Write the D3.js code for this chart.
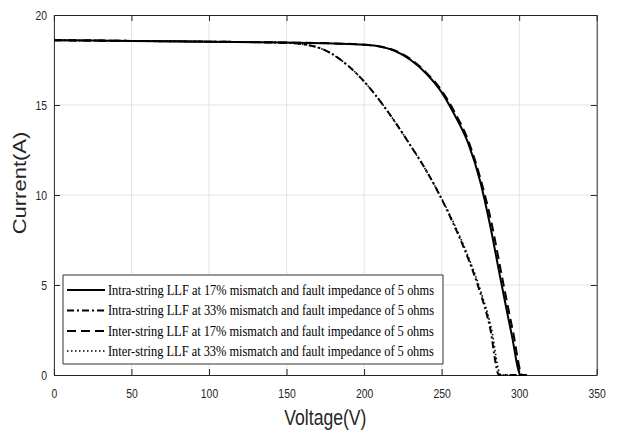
<!DOCTYPE html>
<html>
<head>
<meta charset="utf-8">
<script src="https://cdn.jsdelivr.net/npm/d3@7"></script>
<style>
  body { margin: 0; background: #fff; }
  svg { display: block; }
  .tick text { font-family: "Liberation Sans", Arial, sans-serif; font-size: 13px; fill: #262626; }
  .tick line { stroke: #262626; }
  .domain { stroke: #262626; }
</style>
</head>
<body>
<div id="chart"></div>
<script>
// I-V curves
var intra17V = [0, 50, 100, 150, 180, 200, 210, 220, 230, 240, 250, 258, 267, 275, 281, 288, 295, 301, 305];
var intra17I = [18.6, 18.56, 18.52, 18.47, 18.42, 18.35, 18.25, 18.0, 17.5, 16.75, 15.7, 14.5, 12.9, 10.7, 8.4, 5.3, 2.3, 0, 0];

var intra33V = [0, 50, 100, 150, 160, 170, 178, 190, 200, 213, 228, 245, 257, 266, 274, 281, 287, 305];
var intra33I = [18.6, 18.56, 18.52, 18.45, 18.38, 18.2, 17.9, 17.15, 16.3, 14.9, 13.0, 10.6, 8.5, 6.7, 4.8, 2.7, 0, 0];

var inter17V = [0, 50, 100, 150, 180, 200, 210, 220, 230, 240, 250, 258, 267, 275, 282, 289, 296, 302, 305];
var inter17I = [18.6, 18.56, 18.52, 18.47, 18.42, 18.35, 18.25, 18.02, 17.55, 16.8, 15.8, 14.65, 13.05, 10.9, 8.5, 5.4, 2.4, 0, 0];

var inter33V = [0, 50, 100, 150, 160, 170, 178, 190, 200, 213, 228, 245, 258, 267, 275, 282, 288, 305];
var inter33I = [18.6, 18.56, 18.52, 18.45, 18.38, 18.2, 17.9, 17.15, 16.3, 14.9, 13.0, 10.6, 8.4, 6.6, 4.7, 2.6, 0, 0];

var legendLabels = [
  "Intra-string LLF at 17% mismatch and fault impedance of 5 ohms",
  "Intra-string LLF at 33% mismatch and fault impedance of 5 ohms",
  "Inter-string LLF at 17% mismatch and fault impedance of 5 ohms",
  "Inter-string LLF at 33% mismatch and fault impedance of 5 ohms"
];
var xTicks = [0, 50, 100, 150, 200, 250, 300, 350];
var yTicks = [0, 5, 10, 15, 20];

// the picture is squeezed horizontally, so draw wide and squash with the viewBox
var sx = 0.8;
var W = 619, H = 433;
var VW = W / sx;
var margin = {top: 15, right: VW - 746, bottom: H - 375, left: 67.5};
var width = VW - margin.left - margin.right;
var height = H - margin.top - margin.bottom;

var x = d3.scaleLinear().domain([0, 350]).range([0, width]);
var y = d3.scaleLinear().domain([0, 20]).range([height, 0]);

var svg = d3.select("#chart").append("svg")
    .attr("width", W)
    .attr("height", H)
    .attr("viewBox", "0 0 " + VW + " " + H)
    .attr("preserveAspectRatio", "none");

var g = svg.append("g")
    .attr("transform", "translate(" + margin.left + "," + margin.top + ")");

// grid
g.append("g").selectAll("line.gx")
  .data(xTicks.slice(1, -1))
  .enter().append("line")
  .attr("x1", function(d) { return x(d); })
  .attr("x2", function(d) { return x(d); })
  .attr("y1", 0).attr("y2", height)
  .attr("stroke", "#e3e3e3")
  .attr("vector-effect", "non-scaling-stroke");
g.append("g").selectAll("line.gy")
  .data(yTicks.slice(1, -1))
  .enter().append("line")
  .attr("x1", 0).attr("x2", width)
  .attr("y1", function(d) { return y(d); })
  .attr("y2", function(d) { return y(d); })
  .attr("stroke", "#e3e3e3")
  .attr("vector-effect", "non-scaling-stroke");

// axes, ticks pointing in
var xt = 6, yt = 6 / sx;
g.append("g")
  .attr("transform", "translate(0," + height + ")")
  .call(d3.axisBottom(x).tickValues(xTicks).tickSizeInner(-xt).tickSizeOuter(0).tickPadding(14));
g.append("g")
  .call(d3.axisTop(x).tickValues(xTicks).tickSizeInner(-xt).tickSizeOuter(0).tickFormat(""));
g.append("g")
  .call(d3.axisLeft(y).tickValues(yTicks).tickSizeInner(-yt).tickSizeOuter(0).tickPadding(8.75));
g.append("g")
  .attr("transform", "translate(" + width + ",0)")
  .call(d3.axisRight(y).tickValues(yTicks).tickSizeInner(-yt).tickSizeOuter(0).tickFormat(""));
g.selectAll(".domain, .tick line").attr("vector-effect", "non-scaling-stroke");

// curves
var series = [
  {v: intra17V, i: intra17I, dash: null, w: 2},
  {v: intra33V, i: intra33I, dash: "7,3,2,3", w: 2},
  {v: inter17V, i: inter17I, dash: "9,5", w: 2},
  {v: inter33V, i: inter33I, dash: "1.5,2.5", w: 1.6}
];

var line = d3.line()
  .x(function(d) { return x(d[0]); })
  .y(function(d) { return y(d[1]); })
  .curve(d3.curveMonotoneX);

series.forEach(function(s) {
  var pts = s.v.map(function(v, k) { return [v, s.i[k]]; });
  g.append("path")
    .datum(pts)
    .attr("fill", "none")
    .attr("stroke", "#000")
    .attr("stroke-width", s.w)
    .attr("stroke-dasharray", s.dash)
    .attr("vector-effect", "non-scaling-stroke")
    .attr("d", line);
});

// legend
var lg = svg.append("g");
lg.append("rect")
  .attr("x", 63 / sx).attr("y", 275)
  .attr("width", (443 - 63) / sx).attr("height", 89)
  .attr("fill", "#fff")
  .attr("stroke", "#333")
  .attr("vector-effect", "non-scaling-stroke");
var rowY = [290, 310.5, 331, 351];
legendLabels.forEach(function(t, k) {
  lg.append("line")
    .attr("x1", 67 / sx).attr("x2", 105 / sx)
    .attr("y1", rowY[k]).attr("y2", rowY[k])
    .attr("stroke", "#000")
    .attr("stroke-width", series[k].w)
    .attr("stroke-dasharray", series[k].dash)
    .attr("vector-effect", "non-scaling-stroke");
  lg.append("text")
    .attr("x", 108 / sx).attr("y", rowY[k] + 5)
    .style("font-family", "'Liberation Serif', 'Times New Roman', serif")
    .style("font-size", "15.5px")
    .attr("fill", "#000")
    .text(t);
});

// axis labels
svg.append("text")
  .attr("x", margin.left + width / 2)
  .attr("y", 425)
  .attr("text-anchor", "middle")
  .style("font-family", "'Liberation Sans', Arial, sans-serif")
  .style("font-size", "22px")
  .attr("fill", "#262626")
  .text("Voltage(V)");

svg.append("text")
  .attr("transform", "translate(33," + (margin.top + height / 2 - 12) + ") rotate(-90)")
  .attr("text-anchor", "middle")
  .style("font-family", "'Liberation Sans', Arial, sans-serif")
  .style("font-size", "22px")
  .attr("fill", "#262626")
  .text("Current(A)");
</script>
</body>
</html>
